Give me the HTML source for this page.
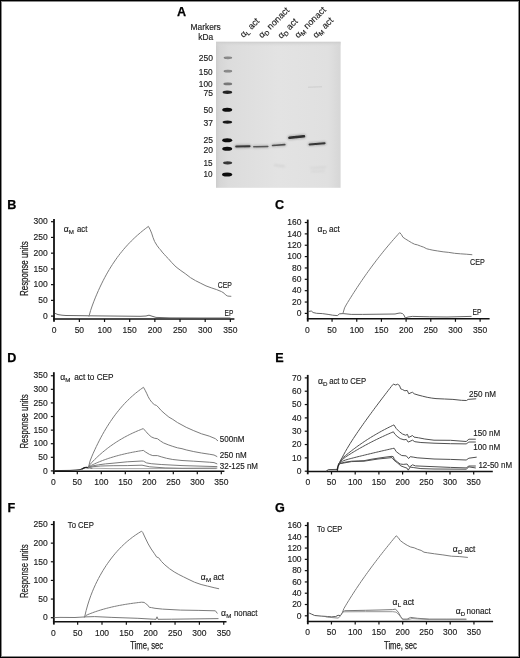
<!DOCTYPE html><html><head><meta charset="utf-8"><style>html,body{margin:0;padding:0;background:#fff;overflow:hidden}svg{display:block;will-change:transform}text{font-family:"Liberation Sans", sans-serif}text[fill="#1c1c1c"]{stroke:#1c1c1c;stroke-width:.16px}</style></head><body>
<svg width="520" height="658" viewBox="0 0 520 658">
<rect x="0" y="0" width="520" height="658" fill="#000"/>
<rect x="1" y="1" width="518" height="656" fill="#8a8a8a"/>
<rect x="2" y="2" width="516" height="654" fill="#fff"/>
<text x="177.09" y="16" font-size="12.6" text-anchor="start" fill="#000" font-weight="bold" stroke="#000" stroke-width="0.25">A</text>
<text x="205.7" y="29.8" font-size="8.4" text-anchor="middle" fill="#1c1c1c" font-weight="normal" >Markers</text>
<text x="205.7" y="39.8" font-size="8.4" text-anchor="middle" fill="#1c1c1c" font-weight="normal" >kDa</text>
<defs><linearGradient id="gel" x1="0" y1="0" x2="1" y2="0"><stop offset="0" stop-color="#cdcdcd"/><stop offset="0.03" stop-color="#d6d6d6"/><stop offset="0.1" stop-color="#dcdcdc"/><stop offset="0.5" stop-color="#e3e3e3"/><stop offset="0.9" stop-color="#e0e0e0"/><stop offset="1" stop-color="#d6d6d6"/></linearGradient><linearGradient id="geltop" x1="0" y1="0" x2="0" y2="1"><stop offset="0" stop-color="#cccccc" stop-opacity="1"/><stop offset="1" stop-color="#dddddd" stop-opacity="0"/></linearGradient><filter id="bl" filterUnits="userSpaceOnUse" x="200" y="30" width="160" height="170"><feGaussianBlur stdDeviation="0.7"/></filter><filter id="bl2" filterUnits="userSpaceOnUse" x="200" y="30" width="160" height="170"><feGaussianBlur stdDeviation="0.9"/></filter><filter id="bl3" filterUnits="userSpaceOnUse" x="200" y="30" width="160" height="170"><feGaussianBlur stdDeviation="0.8"/></filter></defs>
<rect x="216" y="41.8" width="124.6" height="146" fill="url(#gel)"/>
<rect x="216" y="41.8" width="124.6" height="5" fill="url(#geltop)"/>
<path d="M308,87.2 L322,86.8" stroke="#c8c8c8" stroke-width="0.8" filter="url(#bl)"/>
<path d="M274,165 L285,166.5" stroke="#d0d0d0" stroke-width="1.5" filter="url(#bl2)"/>
<path d="M310,168 L326,167.2 M311,171.5 L325,171" stroke="#d0d0d0" stroke-width="1.2" filter="url(#bl2)"/>
<text x="198.8" y="61.35" font-size="8.9" text-anchor="start" fill="#1c1c1c" font-weight="normal" textLength="14.19" lengthAdjust="spacingAndGlyphs" >250</text>
<ellipse cx="227.9" cy="57.8" rx="4.3" ry="1.35" fill="#111" fill-opacity="0.42" filter="url(#bl)"/>
<text x="198.8" y="75.05" font-size="8.9" text-anchor="start" fill="#1c1c1c" font-weight="normal" textLength="13.79" lengthAdjust="spacingAndGlyphs" >150</text>
<ellipse cx="227.9" cy="71.2" rx="4.3" ry="1.35" fill="#111" fill-opacity="0.42" filter="url(#bl)"/>
<text x="198.8" y="86.95" font-size="8.9" text-anchor="start" fill="#1c1c1c" font-weight="normal" textLength="13.79" lengthAdjust="spacingAndGlyphs" >100</text>
<ellipse cx="227.8" cy="83.9" rx="4.4" ry="1.4" fill="#111" fill-opacity="0.5" filter="url(#bl)"/>
<text x="203.53" y="96.45" font-size="8.9" text-anchor="start" fill="#1c1c1c" font-weight="normal" textLength="9.49" lengthAdjust="spacingAndGlyphs" >75</text>
<ellipse cx="227.4" cy="92.3" rx="4.8" ry="1.7" fill="#111" fill-opacity="0.9" filter="url(#bl)"/>
<text x="203.53" y="113.35" font-size="8.9" text-anchor="start" fill="#1c1c1c" font-weight="normal" textLength="9.49" lengthAdjust="spacingAndGlyphs" >50</text>
<ellipse cx="227.2" cy="109.8" rx="5.0" ry="2.0" fill="#111" fill-opacity="1.0" filter="url(#bl)"/>
<text x="203.53" y="126.05" font-size="8.9" text-anchor="start" fill="#1c1c1c" font-weight="normal" textLength="9.49" lengthAdjust="spacingAndGlyphs" >37</text>
<ellipse cx="227.4" cy="122.1" rx="4.8" ry="1.7" fill="#111" fill-opacity="0.95" filter="url(#bl)"/>
<text x="203.53" y="143.25" font-size="8.9" text-anchor="start" fill="#1c1c1c" font-weight="normal" textLength="9.49" lengthAdjust="spacingAndGlyphs" >25</text>
<ellipse cx="227.2" cy="140.2" rx="5.0" ry="2.0" fill="#111" fill-opacity="1.0" filter="url(#bl)"/>
<text x="203.53" y="152.65" font-size="8.9" text-anchor="start" fill="#1c1c1c" font-weight="normal" textLength="9.49" lengthAdjust="spacingAndGlyphs" >20</text>
<ellipse cx="227.2" cy="148.7" rx="5.0" ry="2.0" fill="#111" fill-opacity="1.0" filter="url(#bl)"/>
<text x="203.53" y="165.55" font-size="8.9" text-anchor="start" fill="#1c1c1c" font-weight="normal" textLength="9.09" lengthAdjust="spacingAndGlyphs" >15</text>
<ellipse cx="227.6" cy="162.8" rx="4.6" ry="1.6" fill="#111" fill-opacity="0.8" filter="url(#bl)"/>
<text x="203.53" y="177.05" font-size="8.9" text-anchor="start" fill="#1c1c1c" font-weight="normal" textLength="9.09" lengthAdjust="spacingAndGlyphs" >10</text>
<ellipse cx="227.1" cy="174.4" rx="5.1" ry="2.0" fill="#111" fill-opacity="1.0" filter="url(#bl)"/>
<path d="M236.2,146.5 L249.6,146.2" stroke="#222" stroke-opacity="0.255" stroke-width="3.4" stroke-linecap="round" filter="url(#bl2)"/>
<path d="M236.2,146.5 L249.6,146.2" stroke="#151515" stroke-opacity="0.8075" stroke-width="2.0" stroke-linecap="round" filter="url(#bl)"/>
<path d="M253.8,146.7 L267.8,146.5" stroke="#222" stroke-opacity="0.195" stroke-width="3.0" stroke-linecap="round" filter="url(#bl2)"/>
<path d="M253.8,146.7 L267.8,146.5" stroke="#151515" stroke-opacity="0.6174999999999999" stroke-width="1.6" stroke-linecap="round" filter="url(#bl)"/>
<path d="M272.6,145.5 L284.8,144.6" stroke="#222" stroke-opacity="0.21" stroke-width="3.0999999999999996" stroke-linecap="round" filter="url(#bl2)"/>
<path d="M272.6,145.5 L284.8,144.6" stroke="#151515" stroke-opacity="0.6649999999999999" stroke-width="1.7" stroke-linecap="round" filter="url(#bl)"/>
<path d="M289.4,137.8 L304.0,136.3" stroke="#222" stroke-opacity="0.27" stroke-width="3.9" stroke-linecap="round" filter="url(#bl2)"/>
<path d="M289.4,137.8 L304.0,136.3" stroke="#151515" stroke-opacity="0.855" stroke-width="2.5" stroke-linecap="round" filter="url(#bl)"/>
<path d="M309.6,144.4 L324.6,143.3" stroke="#222" stroke-opacity="0.255" stroke-width="3.4" stroke-linecap="round" filter="url(#bl2)"/>
<path d="M309.6,144.4 L324.6,143.3" stroke="#151515" stroke-opacity="0.8075" stroke-width="2.0" stroke-linecap="round" filter="url(#bl)"/>
<text transform="translate(243.5,38.0) rotate(-45)" font-size="9" fill="#1c1c1c">α<tspan font-size="6.2" dy="2">L</tspan><tspan dy="-2"> act</tspan></text>
<text transform="translate(262.0,38.6) rotate(-45)" font-size="9" fill="#1c1c1c">α<tspan font-size="6.2" dy="2">D</tspan><tspan dy="-2"> nonact</tspan></text>
<text transform="translate(281.2,39.0) rotate(-45)" font-size="9" fill="#1c1c1c">α<tspan font-size="6.2" dy="2">D</tspan><tspan dy="-2"> act</tspan></text>
<text transform="translate(298.2,38.6) rotate(-45)" font-size="9" fill="#1c1c1c">α<tspan font-size="6.2" dy="2">M</tspan><tspan dy="-2"> nonact</tspan></text>
<text transform="translate(316.2,38.6) rotate(-45)" font-size="9" fill="#1c1c1c">α<tspan font-size="6.2" dy="2">M</tspan><tspan dy="-2"> act</tspan></text>
<text x="7.16" y="209.4" font-size="12.6" text-anchor="start" fill="#000" font-weight="bold" stroke="#000" stroke-width="0.25">B</text>
<line x1="54" y1="219.1" x2="54" y2="321.8" stroke="#111" stroke-width="1.8"/>
<line x1="53.1" y1="319" x2="234.4" y2="319" stroke="#111" stroke-width="1.6"/>
<line x1="51" y1="316.1" x2="54" y2="316.1" stroke="#111" stroke-width="1.2"/>
<text x="47.8" y="318.85" font-size="9.3" text-anchor="end" fill="#1c1c1c" font-weight="normal" textLength="4.73" lengthAdjust="spacingAndGlyphs">0</text>
<line x1="51" y1="300.37" x2="54" y2="300.37" stroke="#111" stroke-width="1.2"/>
<text x="47.8" y="303.12" font-size="9.3" text-anchor="end" fill="#1c1c1c" font-weight="normal" textLength="9.45" lengthAdjust="spacingAndGlyphs">50</text>
<line x1="51" y1="284.63" x2="54" y2="284.63" stroke="#111" stroke-width="1.2"/>
<text x="47.8" y="287.38" font-size="9.3" text-anchor="end" fill="#1c1c1c" font-weight="normal" textLength="14.18" lengthAdjust="spacingAndGlyphs">100</text>
<line x1="51" y1="268.9" x2="54" y2="268.9" stroke="#111" stroke-width="1.2"/>
<text x="47.8" y="271.65" font-size="9.3" text-anchor="end" fill="#1c1c1c" font-weight="normal" textLength="14.18" lengthAdjust="spacingAndGlyphs">150</text>
<line x1="51" y1="253.16" x2="54" y2="253.16" stroke="#111" stroke-width="1.2"/>
<text x="47.8" y="255.91" font-size="9.3" text-anchor="end" fill="#1c1c1c" font-weight="normal" textLength="14.18" lengthAdjust="spacingAndGlyphs">200</text>
<line x1="51" y1="237.43" x2="54" y2="237.43" stroke="#111" stroke-width="1.2"/>
<text x="47.8" y="240.18" font-size="9.3" text-anchor="end" fill="#1c1c1c" font-weight="normal" textLength="14.18" lengthAdjust="spacingAndGlyphs">250</text>
<line x1="51" y1="221.69" x2="54" y2="221.69" stroke="#111" stroke-width="1.2"/>
<text x="47.8" y="224.44" font-size="9.3" text-anchor="end" fill="#1c1c1c" font-weight="normal" textLength="14.18" lengthAdjust="spacingAndGlyphs">300</text>
<text x="54.2" y="332.7" font-size="9.3" text-anchor="middle" fill="#1c1c1c" font-weight="normal" textLength="4.73" lengthAdjust="spacingAndGlyphs">0</text>
<line x1="79.37" y1="319" x2="79.37" y2="322" stroke="#111" stroke-width="1.2"/>
<text x="79.37" y="332.7" font-size="9.3" text-anchor="middle" fill="#1c1c1c" font-weight="normal" textLength="9.45" lengthAdjust="spacingAndGlyphs">50</text>
<line x1="104.53" y1="319" x2="104.53" y2="322" stroke="#111" stroke-width="1.2"/>
<text x="104.53" y="332.7" font-size="9.3" text-anchor="middle" fill="#1c1c1c" font-weight="normal" textLength="14.18" lengthAdjust="spacingAndGlyphs">100</text>
<line x1="129.69" y1="319" x2="129.69" y2="322" stroke="#111" stroke-width="1.2"/>
<text x="129.69" y="332.7" font-size="9.3" text-anchor="middle" fill="#1c1c1c" font-weight="normal" textLength="14.18" lengthAdjust="spacingAndGlyphs">150</text>
<line x1="154.86" y1="319" x2="154.86" y2="322" stroke="#111" stroke-width="1.2"/>
<text x="154.86" y="332.7" font-size="9.3" text-anchor="middle" fill="#1c1c1c" font-weight="normal" textLength="14.18" lengthAdjust="spacingAndGlyphs">200</text>
<line x1="180.02" y1="319" x2="180.02" y2="322" stroke="#111" stroke-width="1.2"/>
<text x="180.02" y="332.7" font-size="9.3" text-anchor="middle" fill="#1c1c1c" font-weight="normal" textLength="14.18" lengthAdjust="spacingAndGlyphs">250</text>
<line x1="205.19" y1="319" x2="205.19" y2="322" stroke="#111" stroke-width="1.2"/>
<text x="205.19" y="332.7" font-size="9.3" text-anchor="middle" fill="#1c1c1c" font-weight="normal" textLength="14.18" lengthAdjust="spacingAndGlyphs">300</text>
<line x1="230.36" y1="319" x2="230.36" y2="322" stroke="#111" stroke-width="1.2"/>
<text x="230.36" y="332.7" font-size="9.3" text-anchor="middle" fill="#1c1c1c" font-weight="normal" textLength="14.18" lengthAdjust="spacingAndGlyphs">350</text>
<path d="M55.4,313.5 L58,314.6 L62,315.2 L66,315.5 L75,315.6 L89.5,315.8 L110,316 L140,316.3 L146,316 L149,315.2 L152,316.2 L156,317.4 L170,317.9 L200,318 L230,318" fill="none" stroke="#555" stroke-width="0.9" stroke-linejoin="round" stroke-linecap="round"/>
<path d="M89,316.2 L90.56,310.67 L92.13,306.03 L93.69,301.83 L95.25,297.89 L96.82,294.16 L98.38,290.59 L99.94,287.18 L101.51,283.91 L103.07,280.78 L104.63,277.77 L106.19,274.89 L107.76,272.12 L109.32,269.47 L110.88,266.91 L112.45,264.46 L114.01,262.1 L115.57,259.83 L117.14,257.64 L118.7,255.53 L120.26,253.5 L121.83,251.55 L123.39,249.66 L124.95,247.83 L126.52,246.07 L128.08,244.37 L129.64,242.72 L131.21,241.12 L132.77,239.58 L134.33,238.08 L135.89,236.63 L137.46,235.22 L139.02,233.86 L140.58,232.53 L142.15,231.23 L143.71,229.98 L145.27,228.75 L146.84,227.56 L148.4,226.4 L150,229.3 L151.6,233.1 L153.1,237.7 L154.6,241.5 L156.9,245.3 L159.1,248.3 L160.5,249.8 L162.2,252.1 L164.6,254.7 L166,256.4 L168.3,258.6 L171.5,262.3 L176.1,267 L180.9,270.6 L185.2,273.6 L190.4,277.6 L195.6,280.7 L200.8,283.3 L206,285.9 L211.2,287.8 L216.3,289.5 L221.5,291.6 L224.1,293.2 L225.7,295 L227.8,296.1 L230.9,296.3" fill="none" stroke="#7c7c7c" stroke-width="1.0" stroke-linejoin="round" stroke-linecap="round"/>
<text x="217.8" y="288.2" font-size="8.3" text-anchor="start" fill="#1c1c1c" font-weight="normal" textLength="14.11" lengthAdjust="spacingAndGlyphs" >CEP</text>
<text x="224.6" y="316" font-size="8.3" text-anchor="start" fill="#1c1c1c" font-weight="normal" textLength="8.79" lengthAdjust="spacingAndGlyphs" >EP</text>
<text x="63.7" y="232.1" font-size="8.6" fill="#1c1c1c">α</text>
<text x="68.82" y="234.2" font-size="6.2" fill="#1c1c1c">M</text>
<text x="77" y="232.1" font-size="8.3" fill="#1c1c1c" textLength="10.3" lengthAdjust="spacingAndGlyphs">act</text>
<text x="274.88" y="209.4" font-size="12.6" text-anchor="start" fill="#000" font-weight="bold" stroke="#000" stroke-width="0.25">C</text>
<line x1="307.75" y1="219.6" x2="307.75" y2="321.6" stroke="#111" stroke-width="1.8"/>
<line x1="306.85" y1="318.8" x2="489.6" y2="318.8" stroke="#111" stroke-width="1.6"/>
<line x1="304.75" y1="313.4" x2="307.75" y2="313.4" stroke="#111" stroke-width="1.2"/>
<text x="301.55" y="316.15" font-size="9.3" text-anchor="end" fill="#1c1c1c" font-weight="normal" textLength="4.73" lengthAdjust="spacingAndGlyphs">0</text>
<line x1="304.75" y1="302.04" x2="307.75" y2="302.04" stroke="#111" stroke-width="1.2"/>
<text x="301.55" y="304.79" font-size="9.3" text-anchor="end" fill="#1c1c1c" font-weight="normal" textLength="9.45" lengthAdjust="spacingAndGlyphs">20</text>
<line x1="304.75" y1="290.68" x2="307.75" y2="290.68" stroke="#111" stroke-width="1.2"/>
<text x="301.55" y="293.43" font-size="9.3" text-anchor="end" fill="#1c1c1c" font-weight="normal" textLength="9.45" lengthAdjust="spacingAndGlyphs">40</text>
<line x1="304.75" y1="279.32" x2="307.75" y2="279.32" stroke="#111" stroke-width="1.2"/>
<text x="301.55" y="282.07" font-size="9.3" text-anchor="end" fill="#1c1c1c" font-weight="normal" textLength="9.45" lengthAdjust="spacingAndGlyphs">60</text>
<line x1="304.75" y1="267.96" x2="307.75" y2="267.96" stroke="#111" stroke-width="1.2"/>
<text x="301.55" y="270.71" font-size="9.3" text-anchor="end" fill="#1c1c1c" font-weight="normal" textLength="9.45" lengthAdjust="spacingAndGlyphs">80</text>
<line x1="304.75" y1="256.6" x2="307.75" y2="256.6" stroke="#111" stroke-width="1.2"/>
<text x="301.55" y="259.35" font-size="9.3" text-anchor="end" fill="#1c1c1c" font-weight="normal" textLength="14.18" lengthAdjust="spacingAndGlyphs">100</text>
<line x1="304.75" y1="245.24" x2="307.75" y2="245.24" stroke="#111" stroke-width="1.2"/>
<text x="301.55" y="247.99" font-size="9.3" text-anchor="end" fill="#1c1c1c" font-weight="normal" textLength="14.18" lengthAdjust="spacingAndGlyphs">120</text>
<line x1="304.75" y1="233.88" x2="307.75" y2="233.88" stroke="#111" stroke-width="1.2"/>
<text x="301.55" y="236.63" font-size="9.3" text-anchor="end" fill="#1c1c1c" font-weight="normal" textLength="14.18" lengthAdjust="spacingAndGlyphs">140</text>
<line x1="304.75" y1="222.52" x2="307.75" y2="222.52" stroke="#111" stroke-width="1.2"/>
<text x="301.55" y="225.27" font-size="9.3" text-anchor="end" fill="#1c1c1c" font-weight="normal" textLength="14.18" lengthAdjust="spacingAndGlyphs">160</text>
<text x="307.4" y="332.5" font-size="9.3" text-anchor="middle" fill="#1c1c1c" font-weight="normal" textLength="4.73" lengthAdjust="spacingAndGlyphs">0</text>
<line x1="332.07" y1="318.8" x2="332.07" y2="321.8" stroke="#111" stroke-width="1.2"/>
<text x="332.07" y="332.5" font-size="9.3" text-anchor="middle" fill="#1c1c1c" font-weight="normal" textLength="9.45" lengthAdjust="spacingAndGlyphs">50</text>
<line x1="356.75" y1="318.8" x2="356.75" y2="321.8" stroke="#111" stroke-width="1.2"/>
<text x="356.75" y="332.5" font-size="9.3" text-anchor="middle" fill="#1c1c1c" font-weight="normal" textLength="14.18" lengthAdjust="spacingAndGlyphs">100</text>
<line x1="381.42" y1="318.8" x2="381.42" y2="321.8" stroke="#111" stroke-width="1.2"/>
<text x="381.42" y="332.5" font-size="9.3" text-anchor="middle" fill="#1c1c1c" font-weight="normal" textLength="14.18" lengthAdjust="spacingAndGlyphs">150</text>
<line x1="406.1" y1="318.8" x2="406.1" y2="321.8" stroke="#111" stroke-width="1.2"/>
<text x="406.1" y="332.5" font-size="9.3" text-anchor="middle" fill="#1c1c1c" font-weight="normal" textLength="14.18" lengthAdjust="spacingAndGlyphs">200</text>
<line x1="430.77" y1="318.8" x2="430.77" y2="321.8" stroke="#111" stroke-width="1.2"/>
<text x="430.77" y="332.5" font-size="9.3" text-anchor="middle" fill="#1c1c1c" font-weight="normal" textLength="14.18" lengthAdjust="spacingAndGlyphs">250</text>
<line x1="455.45" y1="318.8" x2="455.45" y2="321.8" stroke="#111" stroke-width="1.2"/>
<text x="455.45" y="332.5" font-size="9.3" text-anchor="middle" fill="#1c1c1c" font-weight="normal" textLength="14.18" lengthAdjust="spacingAndGlyphs">300</text>
<line x1="480.12" y1="318.8" x2="480.12" y2="321.8" stroke="#111" stroke-width="1.2"/>
<text x="480.12" y="332.5" font-size="9.3" text-anchor="middle" fill="#1c1c1c" font-weight="normal" textLength="14.18" lengthAdjust="spacingAndGlyphs">350</text>
<path d="M308.5,311.5 L311.3,311 L313.1,312.5 L316.5,313.3 L322.3,313.6 L328.1,314.4 L332.7,315.2 L337.3,315.6 L339.6,313.8 L343.1,313.6 L351.2,314.4 L362.7,314.4 L380,314.2 L395,314 L398,313.3 L400.2,313 L402.5,313.6 L403.7,314.7 L405.4,318 L408,317 L412.3,316.4 L429.6,316.8 L447,317 L471.2,316.4" fill="none" stroke="#555" stroke-width="0.9" stroke-linejoin="round" stroke-linecap="round"/>
<path d="M343,313.2 L344.57,307.88 L346.15,304.96 L347.73,302.34 L349.3,299.78 L350.88,297.26 L352.45,294.76 L354.02,292.3 L355.6,289.86 L357.18,287.46 L358.75,285.08 L360.32,282.74 L361.9,280.42 L363.48,278.13 L365.05,275.87 L366.62,273.64 L368.2,271.43 L369.77,269.25 L371.35,267.1 L372.93,264.98 L374.5,262.88 L376.07,260.81 L377.65,258.76 L379.23,256.74 L380.8,254.74 L382.38,252.77 L383.95,250.82 L385.52,248.89 L387.1,246.99 L388.68,245.11 L390.25,243.26 L391.82,241.43 L393.4,239.62 L394.98,237.83 L396.55,236.07 L398.12,234.32 L399.7,232.6 L401.4,234.5 L402.9,237.2 L405.2,238.8 L408.3,240.7 L411.4,242.6 L414.5,244.2 L417.5,244.9 L420.6,246.1 L423.7,247.2 L426.8,248.8 L429.8,249.5 L432.9,250.2 L437.3,250.9 L443.1,251.8 L448.8,252.4 L454.6,253.3 L460.4,253.8 L466.2,254.2 L471.9,254.7" fill="none" stroke="#7c7c7c" stroke-width="1.0" stroke-linejoin="round" stroke-linecap="round"/>
<text x="470.1" y="264.6" font-size="8.3" text-anchor="start" fill="#1c1c1c" font-weight="normal" textLength="14.71" lengthAdjust="spacingAndGlyphs" >CEP</text>
<text x="472.4" y="314.7" font-size="8.3" text-anchor="start" fill="#1c1c1c" font-weight="normal" textLength="8.99" lengthAdjust="spacingAndGlyphs" >EP</text>
<text x="317.4" y="231.9" font-size="8.6" fill="#1c1c1c">α</text>
<text x="322.52" y="234" font-size="6.2" fill="#1c1c1c">D</text>
<text x="329" y="231.9" font-size="8.3" fill="#1c1c1c" textLength="10.8" lengthAdjust="spacingAndGlyphs">act</text>
<text x="7.16" y="361.7" font-size="12.6" text-anchor="start" fill="#000" font-weight="bold" stroke="#000" stroke-width="0.25">D</text>
<line x1="53.85" y1="372.2" x2="53.85" y2="474.1" stroke="#111" stroke-width="1.8"/>
<line x1="52.95" y1="471.3" x2="224.4" y2="471.3" stroke="#111" stroke-width="1.6"/>
<line x1="50.85" y1="470.9" x2="53.85" y2="470.9" stroke="#111" stroke-width="1.2"/>
<text x="47.65" y="473.65" font-size="9.3" text-anchor="end" fill="#1c1c1c" font-weight="normal" textLength="4.73" lengthAdjust="spacingAndGlyphs">0</text>
<line x1="50.85" y1="457.3" x2="53.85" y2="457.3" stroke="#111" stroke-width="1.2"/>
<text x="47.65" y="460.05" font-size="9.3" text-anchor="end" fill="#1c1c1c" font-weight="normal" textLength="9.45" lengthAdjust="spacingAndGlyphs">50</text>
<line x1="50.85" y1="443.71" x2="53.85" y2="443.71" stroke="#111" stroke-width="1.2"/>
<text x="47.65" y="446.46" font-size="9.3" text-anchor="end" fill="#1c1c1c" font-weight="normal" textLength="14.18" lengthAdjust="spacingAndGlyphs">100</text>
<line x1="50.85" y1="430.12" x2="53.85" y2="430.12" stroke="#111" stroke-width="1.2"/>
<text x="47.65" y="432.87" font-size="9.3" text-anchor="end" fill="#1c1c1c" font-weight="normal" textLength="14.18" lengthAdjust="spacingAndGlyphs">150</text>
<line x1="50.85" y1="416.52" x2="53.85" y2="416.52" stroke="#111" stroke-width="1.2"/>
<text x="47.65" y="419.27" font-size="9.3" text-anchor="end" fill="#1c1c1c" font-weight="normal" textLength="14.18" lengthAdjust="spacingAndGlyphs">200</text>
<line x1="50.85" y1="402.92" x2="53.85" y2="402.92" stroke="#111" stroke-width="1.2"/>
<text x="47.65" y="405.67" font-size="9.3" text-anchor="end" fill="#1c1c1c" font-weight="normal" textLength="14.18" lengthAdjust="spacingAndGlyphs">250</text>
<line x1="50.85" y1="389.33" x2="53.85" y2="389.33" stroke="#111" stroke-width="1.2"/>
<text x="47.65" y="392.08" font-size="9.3" text-anchor="end" fill="#1c1c1c" font-weight="normal" textLength="14.18" lengthAdjust="spacingAndGlyphs">300</text>
<line x1="50.85" y1="375.74" x2="53.85" y2="375.74" stroke="#111" stroke-width="1.2"/>
<text x="47.65" y="378.49" font-size="9.3" text-anchor="end" fill="#1c1c1c" font-weight="normal" textLength="14.18" lengthAdjust="spacingAndGlyphs">350</text>
<text x="53.3" y="485" font-size="9.3" text-anchor="middle" fill="#1c1c1c" font-weight="normal" textLength="4.73" lengthAdjust="spacingAndGlyphs">0</text>
<line x1="77.3" y1="471.3" x2="77.3" y2="474.3" stroke="#111" stroke-width="1.2"/>
<text x="77.3" y="485" font-size="9.3" text-anchor="middle" fill="#1c1c1c" font-weight="normal" textLength="9.45" lengthAdjust="spacingAndGlyphs">50</text>
<line x1="101.3" y1="471.3" x2="101.3" y2="474.3" stroke="#111" stroke-width="1.2"/>
<text x="101.3" y="485" font-size="9.3" text-anchor="middle" fill="#1c1c1c" font-weight="normal" textLength="14.18" lengthAdjust="spacingAndGlyphs">100</text>
<line x1="125.3" y1="471.3" x2="125.3" y2="474.3" stroke="#111" stroke-width="1.2"/>
<text x="125.3" y="485" font-size="9.3" text-anchor="middle" fill="#1c1c1c" font-weight="normal" textLength="14.18" lengthAdjust="spacingAndGlyphs">150</text>
<line x1="149.3" y1="471.3" x2="149.3" y2="474.3" stroke="#111" stroke-width="1.2"/>
<text x="149.3" y="485" font-size="9.3" text-anchor="middle" fill="#1c1c1c" font-weight="normal" textLength="14.18" lengthAdjust="spacingAndGlyphs">200</text>
<line x1="173.3" y1="471.3" x2="173.3" y2="474.3" stroke="#111" stroke-width="1.2"/>
<text x="173.3" y="485" font-size="9.3" text-anchor="middle" fill="#1c1c1c" font-weight="normal" textLength="14.18" lengthAdjust="spacingAndGlyphs">250</text>
<line x1="197.3" y1="471.3" x2="197.3" y2="474.3" stroke="#111" stroke-width="1.2"/>
<text x="197.3" y="485" font-size="9.3" text-anchor="middle" fill="#1c1c1c" font-weight="normal" textLength="14.18" lengthAdjust="spacingAndGlyphs">300</text>
<line x1="221.3" y1="471.3" x2="221.3" y2="474.3" stroke="#111" stroke-width="1.2"/>
<text x="221.3" y="485" font-size="9.3" text-anchor="middle" fill="#1c1c1c" font-weight="normal" textLength="14.18" lengthAdjust="spacingAndGlyphs">350</text>
<path d="M54,470.6 L70,470.4 L76,470 L80,469.6 L83,468.5 L85.5,467.5 L87.8,467.6 L92,468.2" fill="none" stroke="#333" stroke-width="1.0" stroke-linejoin="round" stroke-linecap="round"/>
<path d="M92,468.2 L110,468.6 L140,468.6 L180,468.5 L216,468.6" fill="none" stroke="#a0a0a0" stroke-width="0.9" stroke-linejoin="round" stroke-linecap="round"/>
<path d="M82,469 L84.5,467.6 L86.5,467.4 L88,467.8" fill="none" stroke="#222" stroke-width="1.4" stroke-linejoin="round" stroke-linecap="round"/>
<path d="M88.5,467.1 L90.07,461.03 L91.64,456.92 L93.21,453.27 L94.79,449.8 L96.36,446.47 L97.93,443.25 L99.5,440.16 L101.07,437.18 L102.64,434.31 L104.21,431.54 L105.79,428.87 L107.36,426.3 L108.93,423.83 L110.5,421.44 L112.07,419.15 L113.64,416.93 L115.21,414.8 L116.79,412.74 L118.36,410.76 L119.93,408.85 L121.5,407.01 L123.07,405.24 L124.64,403.53 L126.21,401.89 L127.79,400.3 L129.36,398.77 L130.93,397.3 L132.5,395.88 L134.07,394.51 L135.64,393.2 L137.21,391.93 L138.79,390.71 L140.36,389.53 L141.93,388.39 L143.5,387.3 L145.1,390.2 L146.6,393.2 L148.2,396.7 L149.7,399.4 L152,402.5 L154.3,404.6 L156.6,405.5 L158.2,407.1 L161.2,410.5 L165.1,414 L168.9,417.1 L172.8,419.4 L177.4,422.5 L186.2,427.3 L193.8,430.7 L201.5,433.8 L209.2,436.1 L215.4,438.7 L217.7,440.7" fill="none" stroke="#7c7c7c" stroke-width="1.0" stroke-linejoin="round" stroke-linecap="round"/>
<path d="M88.5,467.1 L90.07,464.51 L91.63,462.66 L93.2,461.01 L94.76,459.43 L96.33,457.91 L97.89,456.43 L99.46,455 L101.03,453.62 L102.59,452.27 L104.16,450.97 L105.72,449.71 L107.29,448.48 L108.85,447.29 L110.42,446.14 L111.99,445.02 L113.55,443.94 L115.12,442.89 L116.68,441.87 L118.25,440.88 L119.81,439.93 L121.38,439 L122.95,438.1 L124.51,437.22 L126.08,436.38 L127.64,435.56 L129.21,434.76 L130.77,433.99 L132.34,433.24 L133.91,432.51 L135.47,431.81 L137.04,431.13 L138.6,430.47 L140.17,429.83 L141.73,429.2 L143.3,428.6 L145.8,431.4 L148.2,434.1 L151.2,436.8 L154.3,438.2 L157.4,438.7 L160.5,441 L163.5,442.9 L168.2,444.8 L172.8,446.4 L177.4,447.8 L182,448.7 L186.2,449.9 L193.8,451.6 L201.5,453 L209.2,454.2 L214,455 L216.9,456.5" fill="none" stroke="#7c7c7c" stroke-width="1.0" stroke-linejoin="round" stroke-linecap="round"/>
<path d="M88.5,467.1 L90.07,466.05 L91.63,465.23 L93.2,464.47 L94.76,463.75 L96.33,463.05 L97.89,462.38 L99.46,461.73 L101.03,461.11 L102.59,460.5 L104.16,459.92 L105.72,459.36 L107.29,458.82 L108.85,458.29 L110.42,457.78 L111.99,457.3 L113.55,456.82 L115.12,456.37 L116.68,455.93 L118.25,455.5 L119.81,455.09 L121.38,454.7 L122.95,454.32 L124.51,453.95 L126.08,453.59 L127.64,453.25 L129.21,452.92 L130.77,452.59 L132.34,452.29 L133.91,451.99 L135.47,451.7 L137.04,451.42 L138.6,451.15 L140.17,450.89 L141.73,450.64 L143.3,450.4 L145.8,452.2 L149.7,454.5 L152.8,455.6 L157.4,455.6 L161.2,456.8 L166.6,458.3 L172.8,459.5 L182,460.5 L193.8,461.2 L209.2,462.2 L214,462.6 L216.9,463.8" fill="none" stroke="#7c7c7c" stroke-width="1.0" stroke-linejoin="round" stroke-linecap="round"/>
<path d="M88.5,467.1 L93,465.8 L98.6,464.8 L105.4,463.9 L112,463.3 L127.2,461.8 L142,461 L143.5,461.2 L146.6,462.9 L151.2,463.7 L161.2,464.5 L182,465.6 L216.9,466.6" fill="none" stroke="#7c7c7c" stroke-width="1.0" stroke-linejoin="round" stroke-linecap="round"/>
<path d="M88.5,467.1 L100.8,466 L113.1,465.7 L127.2,465.6 L142,465.2 L149.7,466.8 L165.1,467.9 L182,468.3 L216.9,468.1" fill="none" stroke="#7c7c7c" stroke-width="1.0" stroke-linejoin="round" stroke-linecap="round"/>
<text x="219.8" y="442" font-size="8.5" text-anchor="start" fill="#1c1c1c" font-weight="normal" textLength="24.58" lengthAdjust="spacingAndGlyphs" >500nM</text>
<text x="219.8" y="458" font-size="8.5" text-anchor="start" fill="#1c1c1c" font-weight="normal" textLength="26.8" lengthAdjust="spacingAndGlyphs" >250 nM</text>
<text x="219.8" y="468.5" font-size="8.5" text-anchor="start" fill="#1c1c1c" font-weight="normal" textLength="38.21" lengthAdjust="spacingAndGlyphs" >32-125 nM</text>
<text x="60.2" y="379.8" font-size="8.6" fill="#1c1c1c">α</text>
<text x="65.32" y="381.9" font-size="6.2" fill="#1c1c1c">M</text>
<text x="74.2" y="379.8" font-size="8.3" fill="#1c1c1c" textLength="39.4" lengthAdjust="spacingAndGlyphs">act to CEP</text>
<text x="275.16" y="361.7" font-size="12.6" text-anchor="start" fill="#000" font-weight="bold" stroke="#000" stroke-width="0.25">E</text>
<line x1="307.75" y1="374.9" x2="307.75" y2="474.3" stroke="#111" stroke-width="1.8"/>
<line x1="306.85" y1="471.5" x2="492.8" y2="471.5" stroke="#111" stroke-width="1.6"/>
<line x1="304.75" y1="471.2" x2="307.75" y2="471.2" stroke="#111" stroke-width="1.2"/>
<text x="301.55" y="473.95" font-size="9.3" text-anchor="end" fill="#1c1c1c" font-weight="normal" textLength="4.73" lengthAdjust="spacingAndGlyphs">0</text>
<line x1="304.75" y1="457.87" x2="307.75" y2="457.87" stroke="#111" stroke-width="1.2"/>
<text x="301.55" y="460.62" font-size="9.3" text-anchor="end" fill="#1c1c1c" font-weight="normal" textLength="9.45" lengthAdjust="spacingAndGlyphs">10</text>
<line x1="304.75" y1="444.54" x2="307.75" y2="444.54" stroke="#111" stroke-width="1.2"/>
<text x="301.55" y="447.29" font-size="9.3" text-anchor="end" fill="#1c1c1c" font-weight="normal" textLength="9.45" lengthAdjust="spacingAndGlyphs">20</text>
<line x1="304.75" y1="431.21" x2="307.75" y2="431.21" stroke="#111" stroke-width="1.2"/>
<text x="301.55" y="433.96" font-size="9.3" text-anchor="end" fill="#1c1c1c" font-weight="normal" textLength="9.45" lengthAdjust="spacingAndGlyphs">30</text>
<line x1="304.75" y1="417.88" x2="307.75" y2="417.88" stroke="#111" stroke-width="1.2"/>
<text x="301.55" y="420.63" font-size="9.3" text-anchor="end" fill="#1c1c1c" font-weight="normal" textLength="9.45" lengthAdjust="spacingAndGlyphs">40</text>
<line x1="304.75" y1="404.55" x2="307.75" y2="404.55" stroke="#111" stroke-width="1.2"/>
<text x="301.55" y="407.3" font-size="9.3" text-anchor="end" fill="#1c1c1c" font-weight="normal" textLength="9.45" lengthAdjust="spacingAndGlyphs">50</text>
<line x1="304.75" y1="391.22" x2="307.75" y2="391.22" stroke="#111" stroke-width="1.2"/>
<text x="301.55" y="393.97" font-size="9.3" text-anchor="end" fill="#1c1c1c" font-weight="normal" textLength="9.45" lengthAdjust="spacingAndGlyphs">60</text>
<line x1="304.75" y1="377.89" x2="307.75" y2="377.89" stroke="#111" stroke-width="1.2"/>
<text x="301.55" y="380.64" font-size="9.3" text-anchor="end" fill="#1c1c1c" font-weight="normal" textLength="9.45" lengthAdjust="spacingAndGlyphs">70</text>
<text x="307.8" y="485.2" font-size="9.3" text-anchor="middle" fill="#1c1c1c" font-weight="normal" textLength="4.73" lengthAdjust="spacingAndGlyphs">0</text>
<line x1="331.5" y1="471.5" x2="331.5" y2="474.5" stroke="#111" stroke-width="1.2"/>
<text x="331.5" y="485.2" font-size="9.3" text-anchor="middle" fill="#1c1c1c" font-weight="normal" textLength="9.45" lengthAdjust="spacingAndGlyphs">50</text>
<line x1="355.2" y1="471.5" x2="355.2" y2="474.5" stroke="#111" stroke-width="1.2"/>
<text x="355.2" y="485.2" font-size="9.3" text-anchor="middle" fill="#1c1c1c" font-weight="normal" textLength="14.18" lengthAdjust="spacingAndGlyphs">100</text>
<line x1="378.9" y1="471.5" x2="378.9" y2="474.5" stroke="#111" stroke-width="1.2"/>
<text x="378.9" y="485.2" font-size="9.3" text-anchor="middle" fill="#1c1c1c" font-weight="normal" textLength="14.18" lengthAdjust="spacingAndGlyphs">150</text>
<line x1="402.6" y1="471.5" x2="402.6" y2="474.5" stroke="#111" stroke-width="1.2"/>
<text x="402.6" y="485.2" font-size="9.3" text-anchor="middle" fill="#1c1c1c" font-weight="normal" textLength="14.18" lengthAdjust="spacingAndGlyphs">200</text>
<line x1="426.3" y1="471.5" x2="426.3" y2="474.5" stroke="#111" stroke-width="1.2"/>
<text x="426.3" y="485.2" font-size="9.3" text-anchor="middle" fill="#1c1c1c" font-weight="normal" textLength="14.18" lengthAdjust="spacingAndGlyphs">250</text>
<line x1="450" y1="471.5" x2="450" y2="474.5" stroke="#111" stroke-width="1.2"/>
<text x="450" y="485.2" font-size="9.3" text-anchor="middle" fill="#1c1c1c" font-weight="normal" textLength="14.18" lengthAdjust="spacingAndGlyphs">300</text>
<line x1="473.7" y1="471.5" x2="473.7" y2="474.5" stroke="#111" stroke-width="1.2"/>
<text x="473.7" y="485.2" font-size="9.3" text-anchor="middle" fill="#1c1c1c" font-weight="normal" textLength="14.18" lengthAdjust="spacingAndGlyphs">350</text>
<path d="M326.3,471.2 L328.3,469.6 L337,469.4 L337.8,470.9" fill="none" stroke="#333" stroke-width="1.0" stroke-linejoin="round" stroke-linecap="round"/>
<path d="M328.5,470.2 L336.8,470.2" fill="none" stroke="#999" stroke-width="1.0" stroke-linejoin="round" stroke-linecap="round"/>
<path d="M337.3,469.8 L337.9,466.8 L338.7,464.5 L339.2,463.8" fill="none" stroke="#222" stroke-width="1.5" stroke-linejoin="round" stroke-linecap="round"/>
<path d="M339.2,463.8 L340.78,460.4 L342.35,457.22 L343.93,454.21 L345.51,451.35 L347.08,448.61 L348.66,445.97 L350.24,443.4 L351.81,440.91 L353.39,438.47 L354.96,436.08 L356.54,433.73 L358.12,431.41 L359.69,429.12 L361.27,426.86 L362.85,424.62 L364.42,422.4 L366,420.2 L367.58,418.01 L369.15,415.84 L370.73,413.68 L372.31,411.54 L373.88,409.4 L375.46,407.28 L377.04,405.17 L378.61,403.07 L380.19,400.98 L381.76,398.9 L383.34,396.83 L384.92,394.77 L386.49,392.72 L388.07,390.67 L389.65,388.64 L391.22,386.62 L392.8,384.6 L393.5,384.2 L395.8,385 L397.4,384.2 L399.5,385.4 L400.7,388.8 L402.6,389.6 L404.9,390.8 L407.2,390.4 L408.8,393.8 L411.1,392.7 L412.6,392.3 L414.2,393.8 L418,395 L422.6,396.2 L427.2,397.3 L431.8,398.1 L436,398.6 L444.5,399 L452.9,399.4 L461.4,400.3 L466.5,400.5 L468.1,399.4 L475.8,398.8" fill="none" stroke="#505050" stroke-width="1.0" stroke-linejoin="round" stroke-linecap="round"/>
<path d="M339.2,463.8 L340.76,459.76 L342.33,458.28 L343.89,456.94 L345.45,455.63 L347.01,454.34 L348.58,453.07 L350.14,451.83 L351.7,450.61 L353.27,449.41 L354.83,448.24 L356.39,447.09 L357.95,445.95 L359.52,444.84 L361.08,443.75 L362.64,442.68 L364.21,441.62 L365.77,440.59 L367.33,439.58 L368.89,438.58 L370.46,437.6 L372.02,436.64 L373.58,435.7 L375.15,434.77 L376.71,433.86 L378.27,432.97 L379.83,432.1 L381.4,431.24 L382.96,430.39 L384.52,429.56 L386.09,428.75 L387.65,427.95 L389.21,427.17 L390.77,426.4 L392.34,425.64 L393.9,424.9 L396.3,428.6 L399.4,431.7 L402.5,434 L405.5,435.2 L407.5,434.4 L408.6,437.5 L412.5,435.5 L414,437.1 L418.6,437.8 L424.8,439 L434,440.2 L450.5,440.3 L466.2,441.5 L468.9,439.2 L475.4,439.2" fill="none" stroke="#505050" stroke-width="1.0" stroke-linejoin="round" stroke-linecap="round"/>
<path d="M339.2,463.8 L340.75,461.35 L342.3,459.66 L343.85,458.33 L345.39,457.18 L346.94,456.11 L348.49,455.1 L350.04,454.12 L351.59,453.16 L353.14,452.21 L354.69,451.28 L356.23,450.37 L357.78,449.46 L359.33,448.57 L360.88,447.69 L362.43,446.83 L363.98,445.97 L365.53,445.13 L367.07,444.3 L368.62,443.48 L370.17,442.67 L371.72,441.87 L373.27,441.09 L374.82,440.31 L376.37,439.55 L377.91,438.79 L379.46,438.05 L381.01,437.32 L382.56,436.59 L384.11,435.88 L385.66,435.18 L387.21,434.48 L388.75,433.8 L390.3,433.12 L391.85,432.46 L393.4,431.8 L394.8,434.1 L397.1,436.3 L400.2,438.6 L404,439.8 L406.3,439.4 L408.2,442.1 L412.5,440.2 L414.8,441.7 L420.9,442.5 L434,443.2 L450.5,443.7 L466.2,443.9 L468.9,442 L475.4,442" fill="none" stroke="#505050" stroke-width="1.0" stroke-linejoin="round" stroke-linecap="round"/>
<path d="M339.2,463.8 L340.77,462.3 L342.34,461.32 L343.91,460.61 L345.47,460.05 L347.04,459.56 L348.61,459.12 L350.18,458.7 L351.75,458.29 L353.32,457.88 L354.89,457.49 L356.45,457.09 L358.02,456.7 L359.59,456.31 L361.16,455.93 L362.73,455.54 L364.3,455.16 L365.87,454.78 L367.43,454.4 L369,454.02 L370.57,453.64 L372.14,453.27 L373.71,452.89 L375.28,452.52 L376.85,452.15 L378.41,451.79 L379.98,451.42 L381.55,451.06 L383.12,450.69 L384.69,450.33 L386.26,449.97 L387.83,449.61 L389.39,449.26 L390.96,448.9 L392.53,448.55 L394.1,448.2 L396.3,451.7 L399.4,454 L401.7,455.5 L406.3,455.9 L408.6,458.6 L410.2,456.7 L413.2,457.1 L417.1,457.8 L434,459 L450.5,459.4 L466.2,460 L468.9,458.2 L476.3,457.2" fill="none" stroke="#505050" stroke-width="1.0" stroke-linejoin="round" stroke-linecap="round"/>
<path d="M339.2,463.8 L344.3,462.3 L351.6,461.2 L358.9,460.9 L364,460.7 L371,459.3 L378,458.2 L385,457.2 L392,456.3 L393.4,456.8 L394.1,459 L397.1,461.7 L400.2,464 L403.2,464.4 L407.1,464 L409.4,467.1 L412.5,464.8 L415.5,465.9 L434,466.7 L450.5,467.4 L466.2,467.9 L468.9,466 L475.4,466" fill="none" stroke="#505050" stroke-width="1.0" stroke-linejoin="round" stroke-linecap="round"/>
<path d="M339.2,463.8 L351.6,461.6 L364,461.2 L378,459 L392,457.6 L394,460.2 L397.8,463.2 L400.9,465.9 L404,467.1 L407.1,468.2 L408.2,470.2 L410.2,467.1 L413.2,467.5 L420.9,468.6 L434,469 L466.2,469.2 L468.9,466.9 L475.4,467.9" fill="none" stroke="#505050" stroke-width="1.0" stroke-linejoin="round" stroke-linecap="round"/>
<text x="469.1" y="396.6" font-size="8.5" text-anchor="start" fill="#1c1c1c" font-weight="normal" textLength="27" lengthAdjust="spacingAndGlyphs" >250 nM</text>
<text x="473.2" y="436.2" font-size="8.5" text-anchor="start" fill="#1c1c1c" font-weight="normal" textLength="27" lengthAdjust="spacingAndGlyphs" >150 nM</text>
<text x="473.2" y="450.3" font-size="8.5" text-anchor="start" fill="#1c1c1c" font-weight="normal" textLength="27" lengthAdjust="spacingAndGlyphs" >100 nM</text>
<text x="478.4" y="467.9" font-size="8.5" text-anchor="start" fill="#1c1c1c" font-weight="normal" textLength="33.7" lengthAdjust="spacingAndGlyphs" >12-50 nM</text>
<text x="318" y="383.8" font-size="8.6" fill="#1c1c1c">α</text>
<text x="323.12" y="385.9" font-size="6.2" fill="#1c1c1c">D</text>
<text x="329.2" y="383.8" font-size="8.3" fill="#1c1c1c" textLength="37" lengthAdjust="spacingAndGlyphs">act to CEP</text>
<text x="7.56" y="511.7" font-size="12.6" text-anchor="start" fill="#000" font-weight="bold" stroke="#000" stroke-width="0.25">F</text>
<line x1="53.85" y1="521.1" x2="53.85" y2="624.6" stroke="#111" stroke-width="1.8"/>
<line x1="52.95" y1="621.8" x2="226.5" y2="621.8" stroke="#111" stroke-width="1.6"/>
<line x1="50.85" y1="617.7" x2="53.85" y2="617.7" stroke="#111" stroke-width="1.2"/>
<text x="47.65" y="620.45" font-size="9.3" text-anchor="end" fill="#1c1c1c" font-weight="normal" textLength="4.73" lengthAdjust="spacingAndGlyphs">0</text>
<line x1="50.85" y1="599.06" x2="53.85" y2="599.06" stroke="#111" stroke-width="1.2"/>
<text x="47.65" y="601.81" font-size="9.3" text-anchor="end" fill="#1c1c1c" font-weight="normal" textLength="9.45" lengthAdjust="spacingAndGlyphs">50</text>
<line x1="50.85" y1="580.42" x2="53.85" y2="580.42" stroke="#111" stroke-width="1.2"/>
<text x="47.65" y="583.17" font-size="9.3" text-anchor="end" fill="#1c1c1c" font-weight="normal" textLength="14.18" lengthAdjust="spacingAndGlyphs">100</text>
<line x1="50.85" y1="561.78" x2="53.85" y2="561.78" stroke="#111" stroke-width="1.2"/>
<text x="47.65" y="564.53" font-size="9.3" text-anchor="end" fill="#1c1c1c" font-weight="normal" textLength="14.18" lengthAdjust="spacingAndGlyphs">150</text>
<line x1="50.85" y1="543.14" x2="53.85" y2="543.14" stroke="#111" stroke-width="1.2"/>
<text x="47.65" y="545.89" font-size="9.3" text-anchor="end" fill="#1c1c1c" font-weight="normal" textLength="14.18" lengthAdjust="spacingAndGlyphs">200</text>
<line x1="50.85" y1="524.5" x2="53.85" y2="524.5" stroke="#111" stroke-width="1.2"/>
<text x="47.65" y="527.25" font-size="9.3" text-anchor="end" fill="#1c1c1c" font-weight="normal" textLength="14.18" lengthAdjust="spacingAndGlyphs">250</text>
<text x="53.3" y="635.5" font-size="9.3" text-anchor="middle" fill="#1c1c1c" font-weight="normal" textLength="4.73" lengthAdjust="spacingAndGlyphs">0</text>
<line x1="77.65" y1="621.8" x2="77.65" y2="624.8" stroke="#111" stroke-width="1.2"/>
<text x="77.65" y="635.5" font-size="9.3" text-anchor="middle" fill="#1c1c1c" font-weight="normal" textLength="9.45" lengthAdjust="spacingAndGlyphs">50</text>
<line x1="102" y1="621.8" x2="102" y2="624.8" stroke="#111" stroke-width="1.2"/>
<text x="102" y="635.5" font-size="9.3" text-anchor="middle" fill="#1c1c1c" font-weight="normal" textLength="14.18" lengthAdjust="spacingAndGlyphs">100</text>
<line x1="126.35" y1="621.8" x2="126.35" y2="624.8" stroke="#111" stroke-width="1.2"/>
<text x="126.35" y="635.5" font-size="9.3" text-anchor="middle" fill="#1c1c1c" font-weight="normal" textLength="14.18" lengthAdjust="spacingAndGlyphs">150</text>
<line x1="150.7" y1="621.8" x2="150.7" y2="624.8" stroke="#111" stroke-width="1.2"/>
<text x="150.7" y="635.5" font-size="9.3" text-anchor="middle" fill="#1c1c1c" font-weight="normal" textLength="14.18" lengthAdjust="spacingAndGlyphs">200</text>
<line x1="175.05" y1="621.8" x2="175.05" y2="624.8" stroke="#111" stroke-width="1.2"/>
<text x="175.05" y="635.5" font-size="9.3" text-anchor="middle" fill="#1c1c1c" font-weight="normal" textLength="14.18" lengthAdjust="spacingAndGlyphs">250</text>
<line x1="199.4" y1="621.8" x2="199.4" y2="624.8" stroke="#111" stroke-width="1.2"/>
<text x="199.4" y="635.5" font-size="9.3" text-anchor="middle" fill="#1c1c1c" font-weight="normal" textLength="14.18" lengthAdjust="spacingAndGlyphs">300</text>
<line x1="223.75" y1="621.8" x2="223.75" y2="624.8" stroke="#111" stroke-width="1.2"/>
<text x="223.75" y="635.5" font-size="9.3" text-anchor="middle" fill="#1c1c1c" font-weight="normal" textLength="14.18" lengthAdjust="spacingAndGlyphs">350</text>
<path d="M54,617.6 L60,617.4 L75,617.5 L85.1,616.9 L94.6,616.6 L111.9,617.4 L137.9,618.3 L153.3,619.2 L156,619.3 L157,616.8 L158,619.3 L171.5,619.2 L218.1,618.6" fill="none" stroke="#6a6a6a" stroke-width="0.9" stroke-linejoin="round" stroke-linecap="round"/>
<path d="M84.6,617 L86.14,610.57 L87.68,605.03 L89.22,600.15 L90.76,595.78 L92.3,591.81 L93.84,588.15 L95.38,584.74 L96.92,581.55 L98.46,578.53 L100.01,575.68 L101.55,572.96 L103.09,570.37 L104.63,567.9 L106.17,565.53 L107.71,563.27 L109.25,561.1 L110.79,559.02 L112.33,557.03 L113.87,555.11 L115.41,553.28 L116.95,551.51 L118.49,549.82 L120.03,548.2 L121.57,546.64 L123.11,545.14 L124.65,543.7 L126.19,542.32 L127.74,540.99 L129.28,539.72 L130.82,538.5 L132.36,537.32 L133.9,536.2 L135.44,535.12 L136.98,534.08 L138.52,533.08 L140.06,532.12 L141.6,531.2 L142.7,532.4 L145.3,538 L148.2,543.9 L151.2,549 L154.2,553.3 L156.7,557.1 L158.6,557.7 L161.5,561.5 L164.9,564.9 L169.5,568.7 L174.2,571.9 L178.8,574.5 L183.4,576.8 L188,579.1 L194.5,582.2 L201.1,584.5 L207.6,586.1 L214.1,587.7 L218.7,588.7" fill="none" stroke="#7c7c7c" stroke-width="1.0" stroke-linejoin="round" stroke-linecap="round"/>
<path d="M84.6,617 L86.18,615.34 L87.76,614.62 L89.34,613.97 L90.92,613.35 L92.5,612.75 L94.08,612.17 L95.66,611.62 L97.24,611.09 L98.82,610.57 L100.41,610.08 L101.99,609.61 L103.57,609.15 L105.15,608.71 L106.73,608.29 L108.31,607.89 L109.89,607.5 L111.47,607.12 L113.05,606.76 L114.63,606.41 L116.21,606.08 L117.79,605.76 L119.37,605.45 L120.95,605.16 L122.53,604.87 L124.11,604.6 L125.69,604.34 L127.28,604.08 L128.86,603.84 L130.44,603.6 L132.02,603.38 L133.6,603.16 L135.18,602.96 L136.76,602.76 L138.34,602.56 L139.92,602.38 L141.5,602.2 L144.1,602.4 L145.7,603.6 L147.8,605.2 L149.3,607.3 L151.4,607.6 L155,608.3 L162.4,609.1 L180.7,610.1 L198.9,610.4 L215.4,610.8 L217.2,613.2" fill="none" stroke="#7c7c7c" stroke-width="1.0" stroke-linejoin="round" stroke-linecap="round"/>
<text x="200.8" y="579.8" font-size="8.6" fill="#1c1c1c">α</text>
<text x="205.92" y="581.9" font-size="6.2" fill="#1c1c1c">M</text>
<text x="213.2" y="579.8" font-size="8.3" fill="#1c1c1c" textLength="10.8" lengthAdjust="spacingAndGlyphs">act</text>
<text x="221.1" y="615.5" font-size="8.6" fill="#1c1c1c">α</text>
<text x="226.22" y="617.6" font-size="6.2" fill="#1c1c1c">M</text>
<text x="233.9" y="615.5" font-size="8.3" fill="#1c1c1c" textLength="23.6" lengthAdjust="spacingAndGlyphs">nonact</text>
<text x="67.8" y="528" font-size="8.6" text-anchor="start" fill="#1c1c1c" font-weight="normal" textLength="26.1" lengthAdjust="spacingAndGlyphs" >To CEP</text>
<text x="274.88" y="511.8" font-size="12.6" text-anchor="start" fill="#000" font-weight="bold" stroke="#000" stroke-width="0.25">G</text>
<line x1="307.8" y1="522.2" x2="307.8" y2="624.3" stroke="#111" stroke-width="1.8"/>
<line x1="306.9" y1="621.5" x2="493.1" y2="621.5" stroke="#111" stroke-width="1.6"/>
<line x1="304.8" y1="615.8" x2="307.8" y2="615.8" stroke="#111" stroke-width="1.2"/>
<text x="301.6" y="618.55" font-size="9.3" text-anchor="end" fill="#1c1c1c" font-weight="normal" textLength="4.73" lengthAdjust="spacingAndGlyphs">0</text>
<line x1="304.8" y1="604.51" x2="307.8" y2="604.51" stroke="#111" stroke-width="1.2"/>
<text x="301.6" y="607.26" font-size="9.3" text-anchor="end" fill="#1c1c1c" font-weight="normal" textLength="9.45" lengthAdjust="spacingAndGlyphs">20</text>
<line x1="304.8" y1="593.22" x2="307.8" y2="593.22" stroke="#111" stroke-width="1.2"/>
<text x="301.6" y="595.97" font-size="9.3" text-anchor="end" fill="#1c1c1c" font-weight="normal" textLength="9.45" lengthAdjust="spacingAndGlyphs">40</text>
<line x1="304.8" y1="581.94" x2="307.8" y2="581.94" stroke="#111" stroke-width="1.2"/>
<text x="301.6" y="584.69" font-size="9.3" text-anchor="end" fill="#1c1c1c" font-weight="normal" textLength="9.45" lengthAdjust="spacingAndGlyphs">60</text>
<line x1="304.8" y1="570.65" x2="307.8" y2="570.65" stroke="#111" stroke-width="1.2"/>
<text x="301.6" y="573.4" font-size="9.3" text-anchor="end" fill="#1c1c1c" font-weight="normal" textLength="9.45" lengthAdjust="spacingAndGlyphs">80</text>
<line x1="304.8" y1="559.36" x2="307.8" y2="559.36" stroke="#111" stroke-width="1.2"/>
<text x="301.6" y="562.11" font-size="9.3" text-anchor="end" fill="#1c1c1c" font-weight="normal" textLength="14.18" lengthAdjust="spacingAndGlyphs">100</text>
<line x1="304.8" y1="548.07" x2="307.8" y2="548.07" stroke="#111" stroke-width="1.2"/>
<text x="301.6" y="550.82" font-size="9.3" text-anchor="end" fill="#1c1c1c" font-weight="normal" textLength="14.18" lengthAdjust="spacingAndGlyphs">120</text>
<line x1="304.8" y1="536.78" x2="307.8" y2="536.78" stroke="#111" stroke-width="1.2"/>
<text x="301.6" y="539.53" font-size="9.3" text-anchor="end" fill="#1c1c1c" font-weight="normal" textLength="14.18" lengthAdjust="spacingAndGlyphs">140</text>
<line x1="304.8" y1="525.5" x2="307.8" y2="525.5" stroke="#111" stroke-width="1.2"/>
<text x="301.6" y="528.25" font-size="9.3" text-anchor="end" fill="#1c1c1c" font-weight="normal" textLength="14.18" lengthAdjust="spacingAndGlyphs">160</text>
<text x="307.7" y="635.2" font-size="9.3" text-anchor="middle" fill="#1c1c1c" font-weight="normal" textLength="4.73" lengthAdjust="spacingAndGlyphs">0</text>
<line x1="331.45" y1="621.5" x2="331.45" y2="624.5" stroke="#111" stroke-width="1.2"/>
<text x="331.45" y="635.2" font-size="9.3" text-anchor="middle" fill="#1c1c1c" font-weight="normal" textLength="9.45" lengthAdjust="spacingAndGlyphs">50</text>
<line x1="355.2" y1="621.5" x2="355.2" y2="624.5" stroke="#111" stroke-width="1.2"/>
<text x="355.2" y="635.2" font-size="9.3" text-anchor="middle" fill="#1c1c1c" font-weight="normal" textLength="14.18" lengthAdjust="spacingAndGlyphs">100</text>
<line x1="378.95" y1="621.5" x2="378.95" y2="624.5" stroke="#111" stroke-width="1.2"/>
<text x="378.95" y="635.2" font-size="9.3" text-anchor="middle" fill="#1c1c1c" font-weight="normal" textLength="14.18" lengthAdjust="spacingAndGlyphs">150</text>
<line x1="402.7" y1="621.5" x2="402.7" y2="624.5" stroke="#111" stroke-width="1.2"/>
<text x="402.7" y="635.2" font-size="9.3" text-anchor="middle" fill="#1c1c1c" font-weight="normal" textLength="14.18" lengthAdjust="spacingAndGlyphs">200</text>
<line x1="426.45" y1="621.5" x2="426.45" y2="624.5" stroke="#111" stroke-width="1.2"/>
<text x="426.45" y="635.2" font-size="9.3" text-anchor="middle" fill="#1c1c1c" font-weight="normal" textLength="14.18" lengthAdjust="spacingAndGlyphs">250</text>
<line x1="450.2" y1="621.5" x2="450.2" y2="624.5" stroke="#111" stroke-width="1.2"/>
<text x="450.2" y="635.2" font-size="9.3" text-anchor="middle" fill="#1c1c1c" font-weight="normal" textLength="14.18" lengthAdjust="spacingAndGlyphs">300</text>
<line x1="473.95" y1="621.5" x2="473.95" y2="624.5" stroke="#111" stroke-width="1.2"/>
<text x="473.95" y="635.2" font-size="9.3" text-anchor="middle" fill="#1c1c1c" font-weight="normal" textLength="14.18" lengthAdjust="spacingAndGlyphs">350</text>
<path d="M308.5,613.4 L309.5,613.2 L311.5,614.1 L314.7,615.5 L321.2,616.1 L327.6,616.5 L331.7,616.9 L335.7,616.5 L338.1,615.3 L340.5,615.6 L342.3,612.8" fill="none" stroke="#555" stroke-width="1.0" stroke-linejoin="round" stroke-linecap="round"/>
<path d="M326,616.9 L329.2,617.3 L338.1,618.1 L340.5,615.9" fill="none" stroke="#8a8a8a" stroke-width="1.0" stroke-linejoin="round" stroke-linecap="round"/>
<path d="M342.3,612.8 L343.89,608.59 L345.47,605.86 L347.06,603.23 L348.64,600.65 L350.23,598.1 L351.81,595.6 L353.4,593.13 L354.98,590.7 L356.57,588.3 L358.15,585.93 L359.74,583.59 L361.32,581.28 L362.91,579 L364.49,576.75 L366.08,574.52 L367.66,572.32 L369.25,570.14 L370.84,567.98 L372.42,565.84 L374.01,563.73 L375.59,561.63 L377.18,559.55 L378.76,557.49 L380.35,555.45 L381.93,553.42 L383.52,551.41 L385.1,549.41 L386.69,547.43 L388.27,545.46 L389.86,543.5 L391.44,541.56 L393.03,539.63 L394.61,537.71 L396.2,535.8 L398.2,537.5 L400.3,540.6 L403.8,543.2 L407.2,545.3 L410.7,547 L414.2,547.8 L417.6,549.3 L421.1,550.4 L424,552.2 L427.7,552.8 L434.5,553.8 L442.9,554.9 L451.4,556.2 L459.8,556.6 L467.5,557.4" fill="none" stroke="#7c7c7c" stroke-width="1.0" stroke-linejoin="round" stroke-linecap="round"/>
<path d="M342.8,612.1 L344.8,610.7 L365.4,610.3 L379,610 L392.7,609.6 L395.5,609.1 L398.2,612.1 L400.9,616.9 L402.8,619.1 L407.1,619.1 L410.6,617.4 L417.5,618.3 L429.6,619.1 L446.9,619.1 L466,619.1" fill="none" stroke="#6a6a6a" stroke-width="0.9" stroke-linejoin="round" stroke-linecap="round"/>
<path d="M342.8,612.1 L344.8,611.8 L365.4,611.7 L392.7,611.7 L396.1,612.1 L399.2,615 L402.7,619.6 L407,619.8 L412,618.6 L430,619.6 L466,619.6" fill="none" stroke="#8a8a8a" stroke-width="0.9" stroke-linejoin="round" stroke-linecap="round"/>
<text x="452.8" y="551.5" font-size="8.6" fill="#1c1c1c">α</text>
<text x="457.92" y="553.6" font-size="6.2" fill="#1c1c1c">D</text>
<text x="464.4" y="551.5" font-size="8.3" fill="#1c1c1c" textLength="10.8" lengthAdjust="spacingAndGlyphs">act</text>
<text x="392.6" y="604.8" font-size="8.6" fill="#1c1c1c">α</text>
<text x="397.72" y="606.9" font-size="6.2" fill="#1c1c1c">L</text>
<text x="403.1" y="604.8" font-size="8.3" fill="#1c1c1c" textLength="11" lengthAdjust="spacingAndGlyphs">act</text>
<text x="455.7" y="613.9" font-size="8.6" fill="#1c1c1c">α</text>
<text x="460.82" y="616" font-size="6.2" fill="#1c1c1c">D</text>
<text x="466.6" y="613.9" font-size="8.3" fill="#1c1c1c" textLength="24.2" lengthAdjust="spacingAndGlyphs">nonact</text>
<text x="317.1" y="531.8" font-size="8.6" text-anchor="start" fill="#1c1c1c" font-weight="normal" textLength="25.2" lengthAdjust="spacingAndGlyphs" >To CEP</text>
<text transform="translate(27.8,296) rotate(-90)" font-size="11" fill="#222" stroke="#222" stroke-width="0.25" textLength="54.69" lengthAdjust="spacingAndGlyphs">Response units</text>
<text transform="translate(27.8,448.4) rotate(-90)" font-size="11" fill="#222" stroke="#222" stroke-width="0.25" textLength="53.99" lengthAdjust="spacingAndGlyphs">Response units</text>
<text transform="translate(27.8,598.1) rotate(-90)" font-size="11" fill="#222" stroke="#222" stroke-width="0.25" textLength="53.69" lengthAdjust="spacingAndGlyphs">Response units</text>
<text x="130.2" y="648.9" font-size="11" text-anchor="start" fill="#222" font-weight="normal" textLength="33.02" lengthAdjust="spacingAndGlyphs" stroke="#222" stroke-width="0.25">Time, sec</text>
<text x="384" y="648.6" font-size="11" text-anchor="start" fill="#222" font-weight="normal" textLength="32.91" lengthAdjust="spacingAndGlyphs" stroke="#222" stroke-width="0.25">Time, sec</text>
</svg></body></html>
